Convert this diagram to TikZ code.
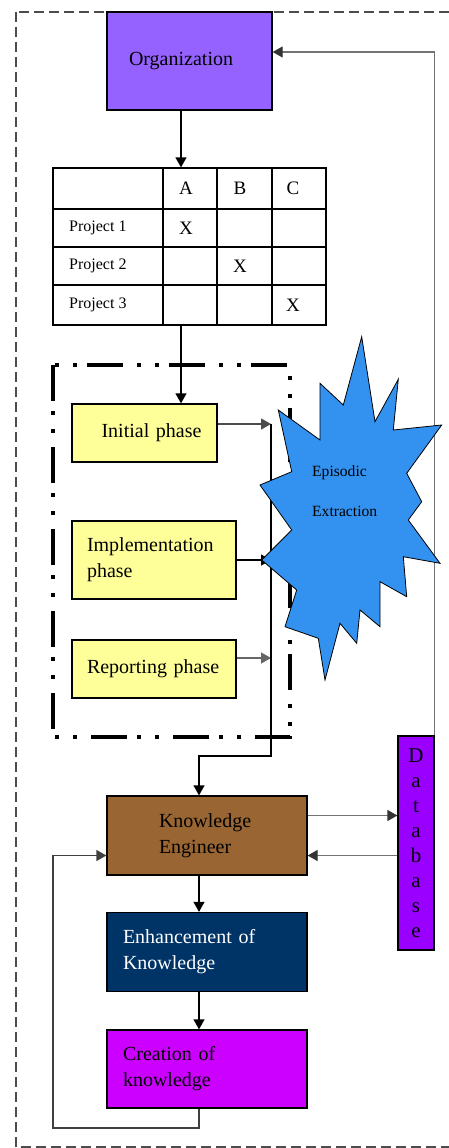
\documentclass[tikz,border=0pt]{standalone}
\usepackage{fontspec}
\setmainfont{Liberation Serif}
\usetikzlibrary{arrows.meta, positioning, calc}
\definecolor{orgpurple}{RGB}{150,98,255}
\definecolor{phaseyellow}{RGB}{255,255,153}
\definecolor{kebrown}{RGB}{153,102,51}
\definecolor{enhnavy}{RGB}{0,51,102}
\definecolor{createmag}{RGB}{204,0,255}
\definecolor{dbpurple}{RGB}{153,0,255}
\definecolor{starblue}{RGB}{51,146,240}
\tikzset{
  box/.style={rectangle, draw, line width=1.3pt, inner sep=0pt, font=\fontsize{20}{26}\selectfont},
  phasebox/.style={box, fill=phaseyellow},
  cell/.style={inner sep=0pt, font=\fontsize{19}{22}\selectfont},
  projlabel/.style={inner sep=0pt, anchor=west, font=\fontsize{16}{19}\selectfont},
  grid/.style={line width=1.3pt},
  arrow/.style={-{Triangle[length=10pt, width=11pt]}, line width=1.3pt},
  grayarrow/.style={-{Triangle[length=10pt, width=11pt, color=black!80]}, line width=1.3pt, draw=black!55},
}
\begin{document}
\begin{tikzpicture}[x=1pt, y=-1pt]
  \useasboundingbox (0,0) rectangle (448,1148);
  % Outer dashed frame
  \draw[black!70, line width=1.2pt, dash pattern=on 10pt off 5pt] (16,12) rectangle (470,1147);

  % Organization
  \node[box, fill=orgpurple, text width=121pt, inner xsep=22pt, align=left, minimum height=98pt] (org) at (189.5,61) {Organization};

  % Project table
  \node[draw, grid, minimum width=273pt, minimum height=157pt, inner sep=0pt] (tbl) at (189.5,246.5) {};
  \foreach \x in {163,217,272} \draw[grid] (\x,168) -- (\x,325);
  \foreach \y in {209,247,285} \draw[grid] (53,\y) -- (326,\y);
  \foreach \c/\x in {A/186,B/240,C/293} \node[cell] (h\c) at (\x,188.5) {\c};
  \foreach \i/\y/\x in {1/228/186, 2/266/240, 3/305/293} {
    \node[projlabel] (p\i) at (69,\y) {Project \i};
    \node[cell] (x\i) at (\x,\y) {X};
  }

  % Phase frame
  \draw[line width=4pt, dash pattern=on 36pt off 10pt on 4pt off 14pt on 4pt off 14pt] (53,365) rectangle (290,737);

  % Phases
  \node[phasebox, text width=114pt, inner xsep=15.5pt, align=right, minimum height=58pt] (init) at (144.5,433) {Initial phase};
  \node[phasebox, text width=134pt, inner xsep=15pt, align=left, minimum height=78pt] (impl) at (154,560) {Implementation\\phase};
  \node[phasebox, text width=134pt, inner xsep=15pt, align=left, minimum height=58pt] (rep) at (154,669) {Reporting phase};

  % Knowledge chain and database
  \node[box, fill=kebrown, text width=96pt, inner xsep=52pt, align=left, minimum height=79pt] (ke) at (207,835.5) {Knowledge\\Engineer};
  \node[box, fill=enhnavy, text=white, text width=168pt, inner xsep=16pt, align=left, minimum height=79pt] (enh) at (207,952) {Enhancement of\\Knowledge};
  \node[box, fill=createmag, text width=168pt, inner xsep=16pt, align=left, minimum height=78pt] (create) at (207,1069) {Creation of\\knowledge};
  \node[box, fill=dbpurple, minimum width=36pt, minimum height=214pt, align=center, font=\fontsize{21}{25}\selectfont] (db) at (416,843) {D\\a\\t\\a\\b\\a\\s\\e};

  % Connectors
  \coordinate (busT) at (271,424);
  \coordinate (busB) at (271,756);
  \coordinate (fbl) at (53,1128);
  \draw[arrow] ([xshift=-8.5pt]org.south) -- ([xshift=-8.5pt]tbl.north);
  \draw[arrow] ([xshift=-8.5pt]tbl.south) -- ([xshift=-8.5pt]tbl.south |- init.north);
  \draw[arrow, draw=black!70] ([yshift=9pt]init.east) -- (busT);
  \draw[arrow] (impl.east) -- (busT |- impl.east);
  \draw[arrow, draw=black!60] ([yshift=11pt]rep.east) -- ([yshift=11pt]rep.east -| busT);
  \draw[arrow] (busT) -- (busB) -| ([xshift=-8pt]ke.north);
  \draw[arrow] ([xshift=-8pt]ke.south) -- ([xshift=-8pt]enh.north);
  \draw[arrow] ([xshift=-8pt]enh.south) -- ([xshift=-8pt]create.north);
  \draw[grayarrow] ([yshift=20pt]ke.east) -- ([yshift=20pt]ke.east -| db.west);
  \draw[grayarrow] ([yshift=-20pt]ke.east -| db.west) -- ([yshift=-20pt]ke.east);
  \draw[grayarrow] (db.north east) |- ([yshift=9pt]org.east);
  \draw[arrow, draw=black!75] ([xshift=-8pt]create.south) |- (fbl) |- ([yshift=-20pt]ke.west);

  % Episodic extraction burst
  \draw[fill=starblue, line width=0.8pt] (361.7,336.7) -- (375,421.7) -- (398.3,379.3) -- (393.3,430)
    -- (441.7,425) -- (406.7,473.3) -- (421.7,501.7) -- (408.3,520) -- (440,563.3) -- (403.3,556.7)
    -- (406.7,596.7) -- (380,581.7) -- (380,626.7) -- (360,610) -- (356.7,643.3) -- (340,623.3)
    -- (325,680) -- (318.3,638.3) -- (285,626.7) -- (296.7,590) -- (261.7,560) -- (291.7,530)
    -- (260,485) -- (291.7,471.7) -- (278.3,410) -- (320,440) -- (320,383.3) -- (343.3,405) -- cycle;
  \node[inner sep=0pt, anchor=west, align=left, font=\fontsize{15.6}{39.7}\selectfont] (epi) at (312,491) {Episodic\\Extraction};
\end{tikzpicture}
\end{document}
